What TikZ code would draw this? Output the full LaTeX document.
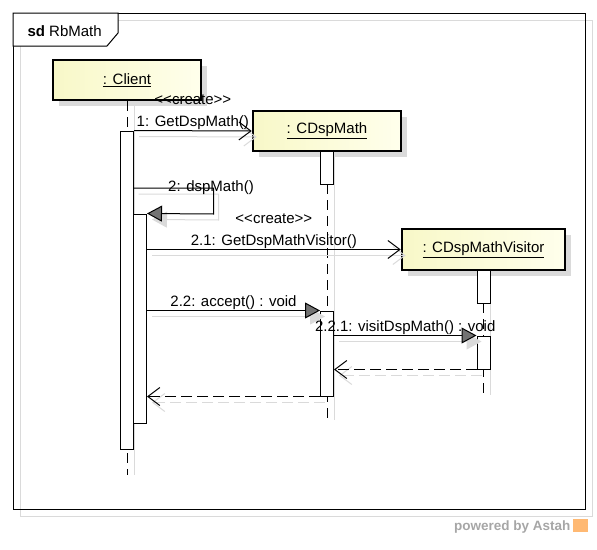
\documentclass[tikz,border=0pt]{standalone}
\usepackage{fontspec}
\setmainfont{Liberation Sans}
\usetikzlibrary{arrows.meta,shadows}
\definecolor{boxleft}{RGB}{248,248,200}
\definecolor{boxright}{RGB}{255,255,236}
\definecolor{shade}{RGB}{218,218,218}
\tikzstyle{obj}=[rectangle,draw=black,line width=2.6pt,left color=boxleft,right color=boxright,minimum width=148pt,minimum height=40pt,inner sep=0pt,drop shadow={shadow xshift=6pt,shadow yshift=-6pt,fill=shade,opacity=1}]
\tikzstyle{act}=[rectangle,draw=black,fill=white,minimum width=13pt,inner sep=0pt]
\tikzstyle{life}=[dash pattern=on 10pt off 6pt]
\tikzstyle{call}=[-{Triangle[length=15pt,width=16pt,fill=black!55]}]
\tikzstyle{create}=[-{Straight Barb[length=12pt,width=18pt]}]
\tikzstyle{reply}=[dash pattern=on 11pt off 5pt,-{Straight Barb[length=12pt,width=18pt]}]
\tikzstyle{sh}=[draw=shade,transform canvas={shift={(5,6)}}]
\tikzstyle{callsh}=[sh,-{Triangle[length=15pt,width=16pt,fill=shade]}]
\tikzstyle{createsh}=[sh,-{Straight Barb[length=12pt,width=18pt]}]

\begin{document}
\begin{tikzpicture}[x=1pt,y=-1pt,line width=1pt,font=\fontsize{15}{18}\selectfont]
\useasboundingbox (0,0) rectangle (597,549);

\draw[draw=shade] (20,20) rectangle (592,516);
\draw (13,13) rectangle (585,509);
\draw[fill=white] (13,13) -- (118,13) -- (118,33) -- (107,46) -- (13,46) -- cycle;
\node (title) at (27,36) [anchor=base west,inner sep=0pt] {\textbf{sd} RbMath};

\node (client) at (127,80) [obj] {\underline{: Client}};
\node (cdspmath) at (327,131) [obj] {\underline{: CDspMath}};
\node (visitor) at (483.5,249.5) [obj,minimum width=163pt,minimum height=41pt] {\underline{: CDspMathVisitor}};

\coordinate (cend) at (127,475);
\coordinate (dend) at (327,420);
\coordinate (vend) at (483.5,395);

\draw[draw=shade,transform canvas={xshift=7pt}] (client.south) -- (cend);
\draw[draw=shade,transform canvas={xshift=7pt}] (cdspmath.south) -- (dend);
\draw[draw=shade,transform canvas={xshift=7pt}] (visitor.south) -- (vend);

\draw[life] (client.south) -- (cend);
\draw[life] (cdspmath.south) -- (dend);
\draw[life] (visitor.south) -- (vend);

\node (ca1) at (127,290) [act,minimum height=318pt] {};
\node (ca2) at (140,318.5) [act,minimum height=209pt] {};
\node (da1) at (327,167.5) [act,minimum height=33pt] {};
\node (da2) at (327,353.5) [act,minimum height=85pt] {};
\node (va1) at (483.5,286.5) [act,minimum height=33pt] {};
\node (va2) at (483.5,352.5) [act,minimum height=33pt] {};

\coordinate (s2) at (133.5,188);

\draw[createsh] (ca1.north east) -- (cdspmath.west);
\draw[callsh] (s2) -- ++(80,0) -- ++(0,26) -- (ca2.north east);
\draw[createsh] (ca2.east |- visitor.west) -- (visitor.west);
\draw[callsh] (ca2.east |- da2.north) -- (da2.north west);
\draw[callsh] (da2.east |- va2.north) -- (va2.north west);
\draw[createsh,dash pattern=on 11pt off 5pt] (va2.south west) -- (da2.east |- va2.south);
\draw[createsh,dash pattern=on 11pt off 5pt] (da2.south west) -- (ca2.east |- da2.south);

\draw[create] (ca1.north east) -- (cdspmath.west) node [midway, above=-3pt] {1: GetDspMath()} node [midway, above=22.5pt] {{<}{<}create{>}{>}};
\draw[call] (s2) -- ++(80,0) -- ++(0,26) -- (ca2.north east);
\node (dsp) at (211,191) [anchor=base] {2: dspMath()};
\draw[create] (ca2.east |- visitor.west) -- (visitor.west) node [midway, above=-3pt] {2.1: GetDspMathVisitor()} node [midway, above=22.5pt] {{<}{<}create{>}{>}};
\draw[call] (ca2.east |- da2.north) -- (da2.north west) node [midway, above=-3pt] {2.2: accept() : void};
\draw[call] (da2.east |- va2.north) -- (va2.north west) node [midway, above=-3pt] {2.2.1: visitDspMath() : void};
\draw[reply] (va2.south west) -- (da2.east |- va2.south);
\draw[reply] (da2.south west) -- (ca2.east |- da2.south);

\node (powered) at (571,530) [anchor=base east,inner sep=0pt,text=black!35,font=\fontsize{13.5}{16}\selectfont\bfseries] {powered by Astah};
\node (logo) at (580,525) [minimum width=15pt,minimum height=13pt,inner sep=0pt,fill=orange!55] {};

\end{tikzpicture}
\end{document}
